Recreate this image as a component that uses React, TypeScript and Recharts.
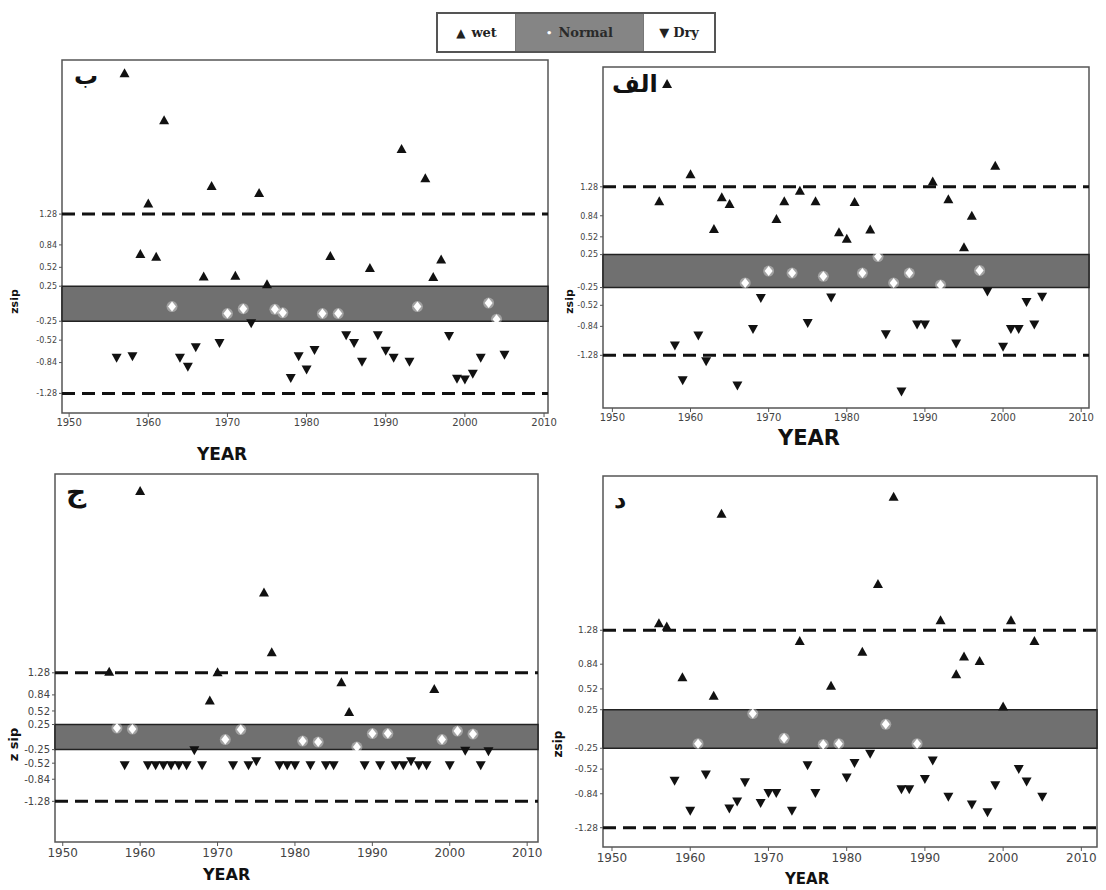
import React from 'react';
import { ScatterChart, Scatter, XAxis, YAxis, ReferenceArea, ReferenceLine } from 'recharts';

type Pt = [number, number];

// Panel ب (top-left)
const bWet: Pt[] = [[1957, 3.29], [1959, 0.71], [1960, 1.43], [1961, 0.67], [1962, 2.62], [1967, 0.39], [1968, 1.68], [1971, 0.40], [1974, 1.58], [1975, 0.28], [1983, 0.68], [1988, 0.51], [1992, 2.21], [1995, 1.79], [1996, 0.38], [1997, 0.63]];
const bNormal: Pt[] = [[1963, -0.04], [1970, -0.14], [1972, -0.07], [1976, -0.08], [1977, -0.13], [1982, -0.14], [1984, -0.14], [1994, -0.04], [2003, 0.01], [2004, -0.22]];
const bDry: Pt[] = [[1956, -0.77], [1958, -0.75], [1964, -0.77], [1965, -0.90], [1966, -0.62], [1969, -0.56], [1973, -0.28], [1978, -1.06], [1979, -0.75], [1980, -0.94], [1981, -0.66], [1985, -0.45], [1986, -0.56], [1987, -0.83], [1989, -0.45], [1990, -0.67], [1991, -0.77], [1993, -0.83], [1998, -0.46], [1999, -1.07], [2000, -1.08], [2001, -1.00], [2002, -0.77], [2005, -0.73]];

// Panel الف (top-right)
const alfWet: Pt[] = [[1956, 1.06], [1957, 2.84], [1960, 1.47], [1963, 0.64], [1964, 1.12], [1965, 1.02], [1971, 0.79], [1972, 1.06], [1974, 1.22], [1976, 1.06], [1979, 0.59], [1980, 0.49], [1981, 1.05], [1983, 0.63], [1991, 1.36], [1993, 1.09], [1995, 0.36], [1996, 0.84], [1999, 1.60]];
const alfNormal: Pt[] = [[1967, -0.18], [1970, 0.0], [1973, -0.03], [1977, -0.08], [1982, -0.03], [1984, 0.22], [1986, -0.18], [1988, -0.03], [1992, -0.21], [1997, 0.01]];
const alfDry: Pt[] = [[1958, -1.13], [1959, -1.66], [1961, -0.98], [1962, -1.37], [1966, -1.74], [1968, -0.88], [1969, -0.41], [1975, -0.79], [1978, -0.40], [1985, -0.96], [1987, -1.83], [1989, -0.81], [1990, -0.81], [1994, -1.10], [1998, -0.31], [2000, -1.15], [2001, -0.88], [2002, -0.88], [2003, -0.47], [2004, -0.81], [2005, -0.39]];

// Panel ج (bottom-left)
const jeemWet: Pt[] = [[1956, 1.30], [1960, 4.90], [1969, 0.73], [1970, 1.29], [1976, 2.88], [1977, 1.69], [1986, 1.09], [1987, 0.50], [1998, 0.96]];
const jeemNormal: Pt[] = [[1957, 0.18], [1959, 0.16], [1971, -0.05], [1973, 0.15], [1981, -0.08], [1983, -0.10], [1988, -0.20], [1990, 0.07], [1992, 0.07], [1999, -0.05], [2001, 0.12], [2003, 0.06]];
const jeemDry: Pt[] = [[1958, -0.56], [1961, -0.56], [1962, -0.56], [1963, -0.56], [1964, -0.56], [1965, -0.56], [1966, -0.56], [1967, -0.26], [1968, -0.56], [1972, -0.56], [1974, -0.56], [1975, -0.48], [1978, -0.56], [1979, -0.56], [1980, -0.56], [1982, -0.56], [1984, -0.56], [1985, -0.56], [1989, -0.56], [1991, -0.56], [1993, -0.56], [1994, -0.56], [1995, -0.48], [1996, -0.56], [1997, -0.56], [2000, -0.56], [2002, -0.27], [2004, -0.56], [2005, -0.28]];

// Panel د (bottom-right)
const dalWet: Pt[] = [[1956, 1.37], [1957, 1.33], [1959, 0.67], [1963, 0.43], [1964, 2.79], [1974, 1.14], [1978, 0.56], [1982, 1.00], [1984, 1.88], [1986, 3.01], [1992, 1.41], [1994, 0.71], [1995, 0.94], [1997, 0.88], [2000, 0.29], [2001, 1.41], [2004, 1.14]];
const dalNormal: Pt[] = [[1961, -0.19], [1968, 0.20], [1972, -0.12], [1977, -0.20], [1979, -0.19], [1985, 0.06], [1989, -0.19]];
const dalDry: Pt[] = [[1958, -0.67], [1960, -1.06], [1962, -0.59], [1965, -1.03], [1966, -0.94], [1967, -0.69], [1969, -0.96], [1970, -0.83], [1971, -0.83], [1973, -1.06], [1975, -0.47], [1976, -0.83], [1980, -0.63], [1981, -0.44], [1983, -0.32], [1987, -0.78], [1988, -0.78], [1990, -0.65], [1991, -0.41], [1993, -0.88], [1996, -0.98], [1998, -1.08], [1999, -0.73], [2002, -0.52], [2003, -0.68], [2005, -0.88]];

const xTicks = [1950, 1960, 1970, 1980, 1990, 2000, 2010];
const yTicks = [-1.28, -0.84, -0.52, -0.25, 0.25, 0.52, 0.84, 1.28];
const yTickLabels = ['-1.28', '-0.84', '-0.52', '-0.25', '0.25', '0.52', '0.84', '1.28'];
const bandLimit = 0.25;
const extremeLimit = 1.28;
const legendLabels = ['wet', 'Normal', 'Dry'];

const UpTri = (p: any) => {
  const { cx, cy } = p;
  if (cx == null || cy == null) return <g />;
  return <polygon points={`${cx},${cy - 5} ${cx - 5},${cy + 4} ${cx + 5},${cy + 4}`} fill="#111" />;
};
const DownTri = (p: any) => {
  const { cx, cy } = p;
  if (cx == null || cy == null) return <g />;
  return <polygon points={`${cx - 5},${cy - 4} ${cx + 5},${cy - 4} ${cx},${cy + 5}`} fill="#111" />;
};
const NormalMark = (p: any) => {
  const { cx, cy } = p;
  if (cx == null || cy == null) return <g />;
  return (
    <g>
      <circle cx={cx} cy={cy} r={5.5} fill="#fff" fillOpacity={0.35} />
      <polygon points={`${cx},${cy - 5} ${cx + 4},${cy} ${cx},${cy + 5} ${cx - 4},${cy}`} fill="#fff" />
    </g>
  );
};

type Cfg = {
  box: { left: number; top: number; right: number; bottom: number };
  xDomain: [number, number];
  yDomain: [number, number];
  wet: Pt[];
  normal: Pt[];
  dry: Pt[];
  yFont: number;
  xFont: number;
};

const toPts = (a: Pt[]) => a.map(([x, y]) => ({ x, y }));

const Panel = ({ cfg }: { cfg: Cfg }) => {
  const yw = 60;
  const mt = 10;
  const xh = 30;
  const mr = 10;
  const w = cfg.box.right - cfg.box.left + yw + mr;
  const h = cfg.box.bottom - cfg.box.top + mt + xh;
  return (
    <div style={{ position: 'absolute', left: cfg.box.left - yw, top: cfg.box.top - mt }}>
      <ScatterChart width={w} height={h} margin={{ top: mt, right: mr, bottom: 0, left: 0 }}>
        <XAxis
          type="number"
          dataKey="x"
          domain={cfg.xDomain}
          allowDataOverflow
          ticks={xTicks}
          interval={0}
          height={xh}
          axisLine={false}
          tickSize={4}
          tickLine={{ stroke: '#555' }}
          tick={{ fontSize: cfg.xFont, fill: '#444', fontFamily: 'DejaVu Sans' }}
        />
        <YAxis
          type="number"
          dataKey="y"
          domain={cfg.yDomain}
          allowDataOverflow
          ticks={yTicks}
          interval={0}
          width={yw}
          axisLine={false}
          tickSize={3}
          tickLine={{ stroke: '#555' }}
          tickFormatter={(v: number) => yTickLabels[yTicks.indexOf(v)] ?? String(v)}
          tick={{ fontSize: cfg.yFont, fill: '#444', fontFamily: 'Liberation Sans Narrow, DejaVu Sans' }}
        />
        <ReferenceArea x1={cfg.xDomain[0]} x2={cfg.xDomain[1]} y1={cfg.yDomain[0]} y2={cfg.yDomain[1]} fill="#fff" fillOpacity={0} stroke="#555" strokeWidth={1.5} />
        <ReferenceArea x1={cfg.xDomain[0]} x2={cfg.xDomain[1]} y1={-bandLimit} y2={bandLimit} fill="#707070" fillOpacity={1} stroke="#222" strokeWidth={1.5} />
        <ReferenceLine y={extremeLimit} stroke="#111" strokeWidth={3} strokeDasharray="13 7" />
        <ReferenceLine y={-extremeLimit} stroke="#111" strokeWidth={3} strokeDasharray="13 7" />
        <Scatter data={toPts(cfg.wet)} shape={UpTri} isAnimationActive={false} />
        <Scatter data={toPts(cfg.normal)} shape={NormalMark} isAnimationActive={false} />
        <Scatter data={toPts(cfg.dry)} shape={DownTri} isAnimationActive={false} />
      </ScatterChart>
    </div>
  );
};

const panels: Cfg[] = [
  { box: { left: 62, top: 60, right: 548, bottom: 413 }, xDomain: [1949.1, 2010.5], yDomain: [-1.56, 3.48], wet: bWet, normal: bNormal, dry: bDry, yFont: 8, xFont: 10 },
  { box: { left: 603, top: 67, right: 1089, bottom: 408 }, xDomain: [1948.8, 2011.0], yDomain: [-2.08, 3.10], wet: alfWet, normal: alfNormal, dry: alfDry, yFont: 8, xFont: 10 },
  { box: { left: 55, top: 474, right: 538, bottom: 842 }, xDomain: [1949.0, 2011.4], yDomain: [-2.09, 5.24], wet: jeemWet, normal: jeemNormal, dry: jeemDry, yFont: 10, xFont: 12 },
  { box: { left: 603, top: 476, right: 1097, bottom: 847 }, xDomain: [1948.85, 2012.0], yDomain: [-1.53, 3.28], wet: dalWet, normal: dalNormal, dry: dalDry, yFont: 9, xFont: 12 },
];

const txt = (style: React.CSSProperties, s: string, rtl = false) => (
  <div dir={rtl ? 'rtl' : undefined} style={{ position: 'absolute', fontFamily: 'DejaVu Sans', fontWeight: 'bold', color: '#111', whiteSpace: 'nowrap', lineHeight: 1, ...style }}>{s}</div>
);

export default function App() {
  return (
    <div style={{ position: 'absolute', left: 0, top: 0, width: 1106, height: 890, background: '#fff', overflow: 'hidden' }}>
      {panels.map((p, i) => <Panel key={i} cfg={p} />)}

      {/* panel letters */}
      {txt({ left: 74, top: 64, fontSize: 24 }, 'ب', true)}
      {txt({ left: 612, top: 72, fontSize: 24 }, 'الف', true)}
      {txt({ left: 66, top: 478, fontSize: 28 }, 'ج', true)}
      {txt({ left: 614, top: 488, fontSize: 24 }, 'د', true)}

      {/* axis titles */}
      {txt({ left: 197, top: 446, fontSize: 17 }, 'YEAR')}
      {txt({ left: 778, top: 428, fontSize: 21 }, 'YEAR')}
      {txt({ left: 203, top: 867, fontSize: 16 }, 'YEAR')}
      {txt({ left: 785, top: 872, fontSize: 15 }, 'YEAR')}
      {txt({ left: 2, top: 296, fontSize: 11, transform: 'rotate(-90deg)', transformOrigin: 'center' }, 'zsip')}
      {txt({ left: 557, top: 296, fontSize: 11, transform: 'rotate(-90deg)', transformOrigin: 'center' }, 'zsip')}
      {txt({ left: -3, top: 738, fontSize: 13, transform: 'rotate(-90deg)', transformOrigin: 'center' }, 'z sip')}
      {txt({ left: 545, top: 738, fontSize: 12, transform: 'rotate(-90deg)', transformOrigin: 'center' }, 'zsip')}

      {/* legend */}
      <div style={{ position: 'absolute', left: 436, top: 12, width: 280, height: 41, border: '2px solid #555', display: 'flex', boxSizing: 'border-box', fontFamily: 'DejaVu Serif', fontWeight: 'bold', fontSize: 13, color: '#222' }}>
        <div style={{ width: 77, display: 'flex', alignItems: 'center', justifyContent: 'center', gap: 6, borderRight: '1px solid #777' }}>
          <span style={{ fontSize: 12 }}>▲</span><span>{legendLabels[0]}</span>
        </div>
        <div style={{ width: 127, background: '#858585', display: 'flex', alignItems: 'center', justifyContent: 'center', gap: 6, color: '#2a2a2a' }}>
          <span style={{ color: '#fff', fontSize: 10 }}>•</span><span>{legendLabels[1]}</span>
        </div>
        <div style={{ flex: 1, display: 'flex', alignItems: 'center', justifyContent: 'center', gap: 4, borderLeft: '1px solid #777' }}>
          <span style={{ fontSize: 13 }}>▼</span><span>{legendLabels[2]}</span>
        </div>
      </div>
    </div>
  );
}
